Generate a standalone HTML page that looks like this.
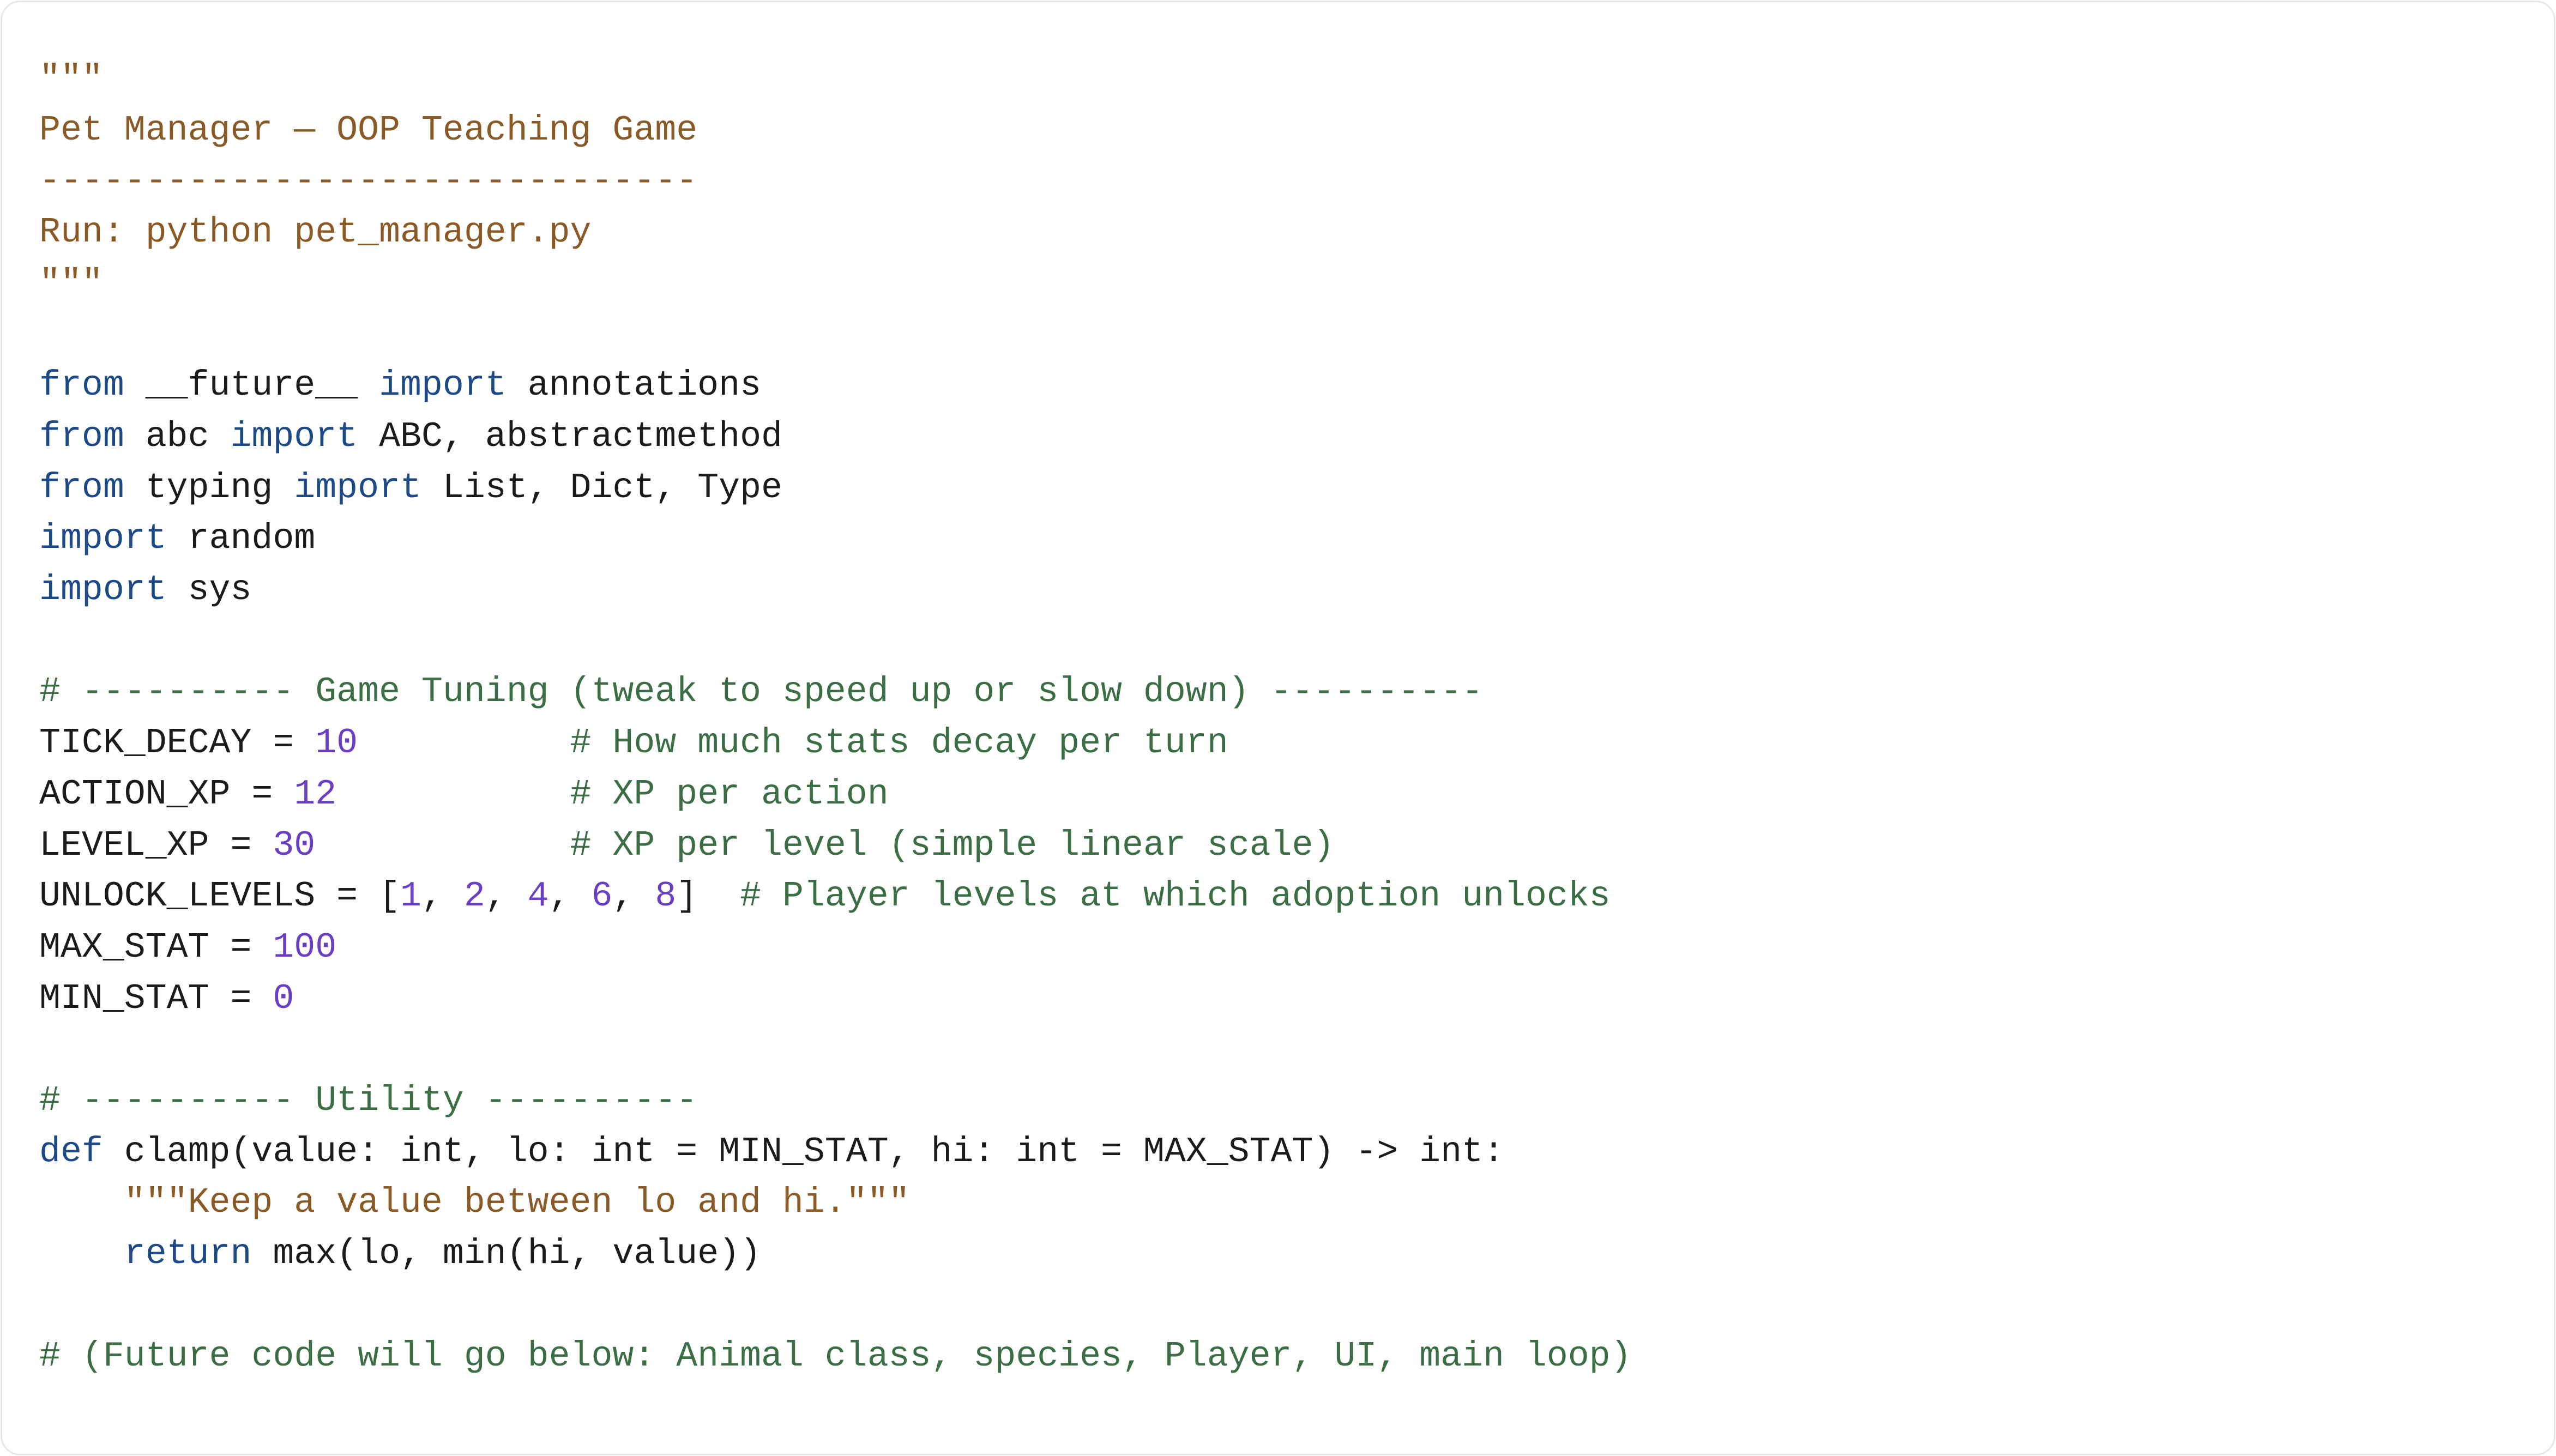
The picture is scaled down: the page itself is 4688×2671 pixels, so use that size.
<!DOCTYPE html>
<html><head><meta charset="utf-8"><style>
html,body{margin:0;padding:0;background:#fff;}
body{width:4688px;height:2671px;position:relative;overflow:hidden;}
.card{position:absolute;left:1px;top:1px;width:4680px;height:2663px;border:3px solid #e6e7ea;border-radius:36px;background:#fff;}
pre{position:absolute;left:72px;top:99px;margin:0;font-family:"Liberation Mono",monospace;font-size:64.9px;line-height:93.7px;color:#1b1b1b;white-space:pre;}
.s{color:#8a5a26}.k{color:#1d4a86}.n{color:#6a3fc4}.c{color:#3b6e45}
</style></head><body><div class="card"></div>
<pre><span class="s">"""
Pet Manager — OOP Teaching Game
-------------------------------
Run: python pet_manager.py
"""</span>

<span class="k">from</span> __future__ <span class="k">import</span> annotations
<span class="k">from</span> abc <span class="k">import</span> ABC, abstractmethod
<span class="k">from</span> typing <span class="k">import</span> List, Dict, Type
<span class="k">import</span> random
<span class="k">import</span> sys

<span class="c"># ---------- Game Tuning (tweak to speed up or slow down) ----------</span>
TICK_DECAY = <span class="n">10</span>          <span class="c"># How much stats decay per turn</span>
ACTION_XP = <span class="n">12</span>           <span class="c"># XP per action</span>
LEVEL_XP = <span class="n">30</span>            <span class="c"># XP per level (simple linear scale)</span>
UNLOCK_LEVELS = [<span class="n">1</span>, <span class="n">2</span>, <span class="n">4</span>, <span class="n">6</span>, <span class="n">8</span>]  <span class="c"># Player levels at which adoption unlocks</span>
MAX_STAT = <span class="n">100</span>
MIN_STAT = <span class="n">0</span>

<span class="c"># ---------- Utility ----------</span>
<span class="k">def</span> clamp(value: int, lo: int = MIN_STAT, hi: int = MAX_STAT) -&gt; int:
    <span class="s">"""Keep a value between lo and hi."""</span>
    <span class="k">return</span> max(lo, min(hi, value))

<span class="c"># (Future code will go below: Animal class, species, Player, UI, main loop)</span>
</pre>
</body></html>
